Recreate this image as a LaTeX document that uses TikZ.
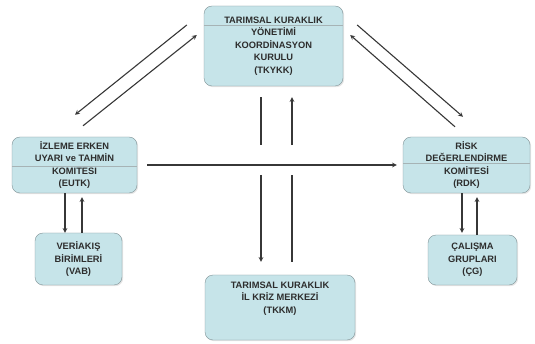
\documentclass[tikz,border=0pt]{standalone}
\usepackage{fontspec}
\setmainfont{Liberation Sans}
\usetikzlibrary{arrows,positioning,shapes,calc,shadows}
\definecolor{boxfill}{RGB}{198,228,233}
\definecolor{boxline}{RGB}{128,146,150}
\definecolor{flowline}{RGB}{55,55,55}
\definecolor{textgray}{RGB}{45,45,45}

\begin{document}
\begin{tikzpicture}[
		x=1pt,y=-1pt,
		>=stealth,
		unit/.style={
			draw=boxline,
			fill=boxfill,
			rounded corners=8pt,
			align=center,
			inner sep=2pt,
			text=textgray,
			font=\fontsize{9.3}{12.5}\selectfont\bfseries,
			drop shadow={opacity=0.2,shadow xshift=1.2pt,shadow yshift=-1.2pt}
		},
		flow/.style={
			->,
			draw=flowline,
			line width=1.1pt
		},
		split/.style={
			draw=boxline!70,
			line width=0.5pt
		}
		]
		\useasboundingbox (0,0) rectangle (535,344);
		% units
		\node[unit,minimum width=139pt,minimum height=80pt] (tkykk) at (273.5,46)
			{TARIMSAL KURAKLIK\\YÖNETİMİ\\KOORDİNASYON\\KURULU\\(TKYKK)};
		\node[unit,minimum width=125pt,minimum height=56pt] (eutk) at (74.5,165)
			{İZLEME ERKEN\\UYARI ve TAHMİN\\KOMİTESİ\\(EUTK)};
		\node[unit,minimum width=127pt,minimum height=56pt] (rdk) at (466.5,165)
			{RİSK\\DEĞERLENDİRME\\KOMİTESİ\\(RDK)};
		\node[unit,minimum width=87pt,minimum height=52pt] (vab) at (78.5,259)
			{VERİAKIŞ\\BİRİMLERİ\\(VAB)};
		\node[unit,minimum width=89pt,minimum height=50pt] (cg) at (472.5,260)
			{ÇALIŞMA\\GRUPLARI\\(ÇG)};
		\node[unit,minimum width=150pt,minimum height=65pt,text depth=20pt] (tkkm) at (280,307.5)
			{TARIMSAL KURAKLIK\\İL KRİZ MERKEZİ\\(TKKM)};
		% thin rules inside the boxes
		\draw[split] (tkykk.west |- 0,25) -- (tkykk.east |- 0,25);
		\draw[split] (eutk.west |- 0,166) -- (eutk.east |- 0,166);
		\draw[split] (rdk.west |- 0,163) -- (rdk.east |- 0,163);
		% TKYKK <-> EUTK
		\draw[flow] ($(tkykk.west)+(-17,-21)$) -- ($(eutk.north)+(0.5,-22)$);
		\draw[flow] ($(eutk.north)+(8.5,-11)$) -- ($(tkykk.west)+(-7,-11)$);
		% TKYKK <-> RDK
		\draw[flow] ($(tkykk.east)+(14,-21)$) -- ($(rdk.north)+(-3.5,-20)$);
		\draw[flow] ($(rdk.north)+(-11.5,-10)$) -- ($(tkykk.east)+(7,-11)$);
		% TKYKK <-> TKKM
		\draw[flow] ($(tkykk.south)+(-12.5,11)$) -- ($(tkykk.south)+(-12.5,59)$)
			($(tkkm.north)+(-19,-100)$) -- ($(tkkm.north)+(-19,-13)$);
		\draw[flow] ($(tkkm.north)+(12,-13)$) -- ($(tkkm.north)+(12,-100)$)
			($(tkykk.south)+(18.5,59)$) -- ($(tkykk.south)+(18.5,11)$);
		% EUTK -> RDK
		\draw[flow,shorten <=10pt,shorten >=6pt] (eutk.east) -- (rdk.west);
		% EUTK <-> VAB
		\draw[flow] ([xshift=-9.5pt]eutk.south) -- ([xshift=-9.5pt]eutk.south |- vab.north);
		\draw[flow,shorten >=4pt] ([xshift=7.5pt]eutk.south |- vab.north) -- ([xshift=7.5pt]eutk.south);
		% RDK <-> CG
		\draw[flow,shorten >=2pt] ([xshift=-4.5pt]rdk.south) -- ([xshift=-4.5pt]rdk.south |- cg.north);
		\draw[flow,shorten >=4pt] ([xshift=10.5pt]rdk.south |- cg.north) -- ([xshift=10.5pt]rdk.south);
		\end{tikzpicture}
\end{document}
